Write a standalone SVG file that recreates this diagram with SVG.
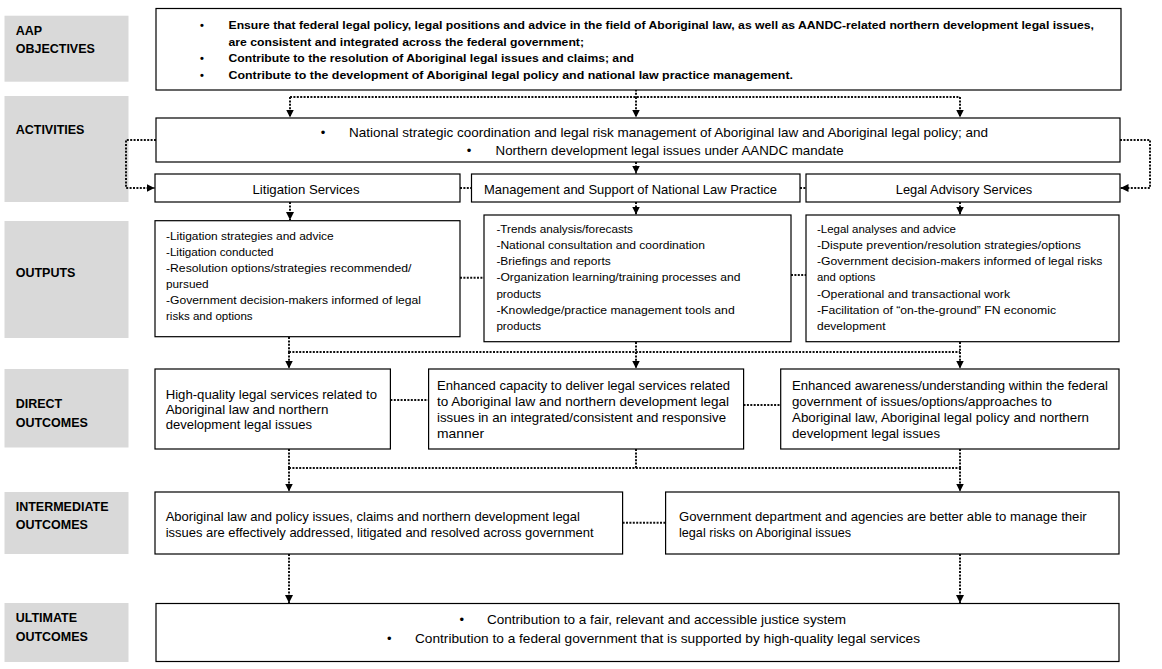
<svg xmlns="http://www.w3.org/2000/svg" width="1162" height="669" viewBox="0 0 1162 669">
<defs>
<style>
.lbl{fill:#d9d9d9;stroke:none}
.lt{font-family:"Liberation Sans",Arial,sans-serif;font-weight:bold;font-size:12.5px;fill:#000}
.box{fill:#fff;stroke:#000;stroke-width:1.2}
.b{font-family:"Liberation Sans",Arial,sans-serif;font-weight:bold;font-size:11px;fill:#000}
.m{font-family:"Liberation Sans",Arial,sans-serif;font-size:13px;fill:#000}
.s{font-family:"Liberation Sans",Arial,sans-serif;font-size:11.5px;fill:#000}
.c{text-anchor:middle}
.dot{fill:none;stroke:#111;stroke-width:2;stroke-dasharray:2 1.4}
.arr{marker-end:url(#ah)}
</style>
<marker id="ah" viewBox="0 0 8 8" refX="8" refY="4" markerWidth="8" markerHeight="8" markerUnits="userSpaceOnUse" orient="auto">
<path d="M0,0 L8,4 L0,8 z" fill="#000"/>
</marker>
</defs>
<rect width="1162" height="669" fill="#fff"/>

<g id="labels">
<g id="lbl-aap"><rect class="lbl" x="4.5" y="15.7" width="124" height="66"/><text class="lt" x="15.7" y="34.5">AAP</text><text class="lt" x="15.7" y="52.5">OBJECTIVES</text></g>
<g id="lbl-act"><rect class="lbl" x="4.5" y="96" width="124" height="106"/><text class="lt" x="15.7" y="133.5">ACTIVITIES</text></g>
<g id="lbl-out"><rect class="lbl" x="4.5" y="221" width="124" height="117"/><text class="lt" x="15.7" y="276.5">OUTPUTS</text></g>
<g id="lbl-direct"><rect class="lbl" x="4.5" y="369" width="124" height="78.5"/><text class="lt" x="15.7" y="408">DIRECT</text><text class="lt" x="15.7" y="427">OUTCOMES</text></g>
<g id="lbl-inter"><rect class="lbl" x="4.5" y="492" width="124" height="62"/><text class="lt" x="15.7" y="511">INTERMEDIATE</text><text class="lt" x="15.7" y="528.5">OUTCOMES</text></g>
<g id="lbl-ult"><rect class="lbl" x="4.5" y="603" width="124" height="59"/><text class="lt" x="15.7" y="622">ULTIMATE</text><text class="lt" x="15.7" y="640.5">OUTCOMES</text></g>
</g>

<g id="connectors">
<path class="dot" d="M636,86 V97"/>
<path class="dot" d="M290,97 H960"/>
<path class="dot arr" d="M290,97 V117.5"/>
<path class="dot arr" d="M636,97 V117.5"/>
<path class="dot arr" d="M960,97 V117.5"/>
<path class="dot arr" d="M156,140 H126 V188 H154.5"/>
<path class="dot arr" d="M1120,140 H1150 V188 H1120.5"/>
<path class="dot arr" d="M636,162 V173.5"/>
<path class="dot" d="M460,188 H471.5"/>
<path class="dot" d="M800,188 H806"/>
<path class="dot arr" d="M290,202 V220"/>
<path class="dot arr" d="M636,202 V214.5"/>
<path class="dot arr" d="M960,202 V214.5"/>
<path class="dot" d="M460,277.7 H484"/>
<path class="dot" d="M791,275 H806"/>
<path class="dot" d="M289,337 V352"/>
<path class="dot" d="M636,342 V352"/>
<path class="dot" d="M960,342 V352"/>
<path class="dot" d="M289,352 H960"/>
<path class="dot arr" d="M289,352 V368.5"/>
<path class="dot arr" d="M636,352 V368.5"/>
<path class="dot arr" d="M960,352 V368.5"/>
<path class="dot" d="M390.4,400 H428.6"/>
<path class="dot" d="M743.5,405 H780.7"/>
<path class="dot" d="M289,449 V468"/>
<path class="dot" d="M636,449 V468"/>
<path class="dot" d="M960,449 V468"/>
<path class="dot" d="M289,468 H960"/>
<path class="dot arr" d="M289,468 V491.5"/>
<path class="dot arr" d="M960,468 V491.5"/>
<path class="dot" d="M622.6,522.7 H665.6"/>
<path class="dot arr" d="M289,554 V603"/>
<path class="dot arr" d="M960,554 V603"/>
</g>

<g id="objectives">
<rect class="box" x="156" y="8.5" width="965" height="81.5"/>
<text class="b c" x="202" y="29">•</text>
<text class="b" x="228.5" y="29" textLength="865.5" lengthAdjust="spacingAndGlyphs">Ensure that federal legal policy, legal positions and advice in the field of Aboriginal law, as well as AANDC-related northern development legal issues,</text>
<text class="b" x="228.5" y="45.5" textLength="355.5" lengthAdjust="spacingAndGlyphs">are consistent and integrated across the federal government;</text>
<text class="b c" x="202" y="62">•</text>
<text class="b" x="228.5" y="62" textLength="405.5" lengthAdjust="spacingAndGlyphs">Contribute to the resolution of Aboriginal legal issues and claims; and</text>
<text class="b c" x="202" y="79">•</text>
<text class="b" x="228.5" y="79" textLength="564.5" lengthAdjust="spacingAndGlyphs">Contribute to the development of Aboriginal legal policy and national law practice management.</text>
</g>

<g id="activities">
<rect class="box" x="156" y="118" width="964" height="44"/>
<text class="m c" x="323" y="137">•</text>
<text class="m" x="349" y="137" textLength="639" lengthAdjust="spacingAndGlyphs">National strategic coordination and legal risk management of Aboriginal law and Aboriginal legal policy; and</text>
<text class="m c" x="469" y="155">•</text>
<text class="m" x="495.6" y="155" textLength="348" lengthAdjust="spacingAndGlyphs">Northern development legal issues under AANDC mandate</text>
</g>

<g id="litigation">
<rect class="box" x="155" y="174" width="305" height="28"/>
<text class="m c" x="306" y="193.5" textLength="107" lengthAdjust="spacingAndGlyphs">Litigation Services</text>
</g>
<g id="management">
<rect class="box" x="471.5" y="174" width="328.5" height="28"/>
<text class="m c" x="630.5" y="193.5" textLength="293" lengthAdjust="spacingAndGlyphs">Management and Support of National Law Practice</text>
</g>
<g id="legal-advisory">
<rect class="box" x="806" y="174" width="314" height="28"/>
<text class="m c" x="964" y="193.5" textLength="136.5" lengthAdjust="spacingAndGlyphs">Legal Advisory Services</text>
</g>

<g id="out-litigation">
<rect class="box" x="155" y="220.7" width="305" height="116"/>
<text class="s" x="166" y="240" textLength="167.7" lengthAdjust="spacingAndGlyphs">-Litigation strategies and advice</text>
<text class="s" x="166" y="256" textLength="107.6" lengthAdjust="spacingAndGlyphs">-Litigation conducted</text>
<text class="s" x="166" y="272" textLength="245.4" lengthAdjust="spacingAndGlyphs">-Resolution options/strategies recommended/</text>
<text class="s" x="166" y="287.5" textLength="42.6" lengthAdjust="spacingAndGlyphs">pursued</text>
<text class="s" x="166" y="304" textLength="255" lengthAdjust="spacingAndGlyphs">-Government decision-makers informed of legal</text>
<text class="s" x="166" y="320" textLength="86.6" lengthAdjust="spacingAndGlyphs">risks and options</text>
</g>

<g id="out-management">
<rect class="box" x="484" y="215" width="307" height="126.7"/>
<text class="s" x="496.4" y="233" textLength="136.6" lengthAdjust="spacingAndGlyphs">-Trends analysis/forecasts</text>
<text class="s" x="496.4" y="249" textLength="208.6" lengthAdjust="spacingAndGlyphs">-National consultation and coordination</text>
<text class="s" x="496.4" y="265.2" textLength="114.3" lengthAdjust="spacingAndGlyphs">-Briefings and reports</text>
<text class="s" x="496.4" y="281.4" textLength="244" lengthAdjust="spacingAndGlyphs">-Organization learning/training processes and</text>
<text class="s" x="496.4" y="297.6" textLength="44.6" lengthAdjust="spacingAndGlyphs">products</text>
<text class="s" x="496.4" y="313.8" textLength="238.3" lengthAdjust="spacingAndGlyphs">-Knowledge/practice management tools and</text>
<text class="s" x="496.4" y="330" textLength="44.6" lengthAdjust="spacingAndGlyphs">products</text>
</g>

<g id="out-advisory">
<rect class="box" x="806" y="215" width="313" height="126.7"/>
<text class="s" x="817" y="233" textLength="139" lengthAdjust="spacingAndGlyphs">-Legal analyses and advice</text>
<text class="s" x="817" y="249" textLength="264" lengthAdjust="spacingAndGlyphs">-Dispute prevention/resolution strategies/options</text>
<text class="s" x="817" y="265.2" textLength="285.4" lengthAdjust="spacingAndGlyphs">-Government decision-makers informed of legal risks</text>
<text class="s" x="817" y="281.4" textLength="58.5" lengthAdjust="spacingAndGlyphs">and options</text>
<text class="s" x="817" y="297.6" textLength="193" lengthAdjust="spacingAndGlyphs">-Operational and transactional work</text>
<text class="s" x="817" y="313.8" textLength="239" lengthAdjust="spacingAndGlyphs">-Facilitation of “on-the-ground” FN economic</text>
<text class="s" x="817" y="330" textLength="68.5" lengthAdjust="spacingAndGlyphs">development</text>
</g>

<g id="direct-1">
<rect class="box" x="155" y="369" width="235.4" height="80"/>
<text class="m" x="165.7" y="398.5" textLength="211.3" lengthAdjust="spacingAndGlyphs">High-quality legal services related to</text>
<text class="m" x="165.7" y="413.5" textLength="162.7" lengthAdjust="spacingAndGlyphs">Aboriginal law and northern</text>
<text class="m" x="165.7" y="428.5" textLength="146.3" lengthAdjust="spacingAndGlyphs">development legal issues</text>
</g>

<g id="direct-2">
<rect class="box" x="428.6" y="369" width="315" height="80"/>
<text class="m" x="437" y="389.5" textLength="293" lengthAdjust="spacingAndGlyphs">Enhanced capacity to deliver legal services related</text>
<text class="m" x="437" y="405.5" textLength="292" lengthAdjust="spacingAndGlyphs">to Aboriginal law and northern development legal</text>
<text class="m" x="437" y="421.5" textLength="289" lengthAdjust="spacingAndGlyphs">issues in an integrated/consistent and responsive</text>
<text class="m" x="437" y="437.5" textLength="47" lengthAdjust="spacingAndGlyphs">manner</text>
</g>

<g id="direct-3">
<rect class="box" x="780.7" y="369" width="338.3" height="80"/>
<text class="m" x="792" y="389.5" textLength="316" lengthAdjust="spacingAndGlyphs">Enhanced awareness/understanding within the federal</text>
<text class="m" x="792" y="405.5" textLength="260" lengthAdjust="spacingAndGlyphs">government of issues/options/approaches to</text>
<text class="m" x="792" y="421.5" textLength="297" lengthAdjust="spacingAndGlyphs">Aboriginal law, Aboriginal legal policy and northern</text>
<text class="m" x="792" y="437.5" textLength="148" lengthAdjust="spacingAndGlyphs">development legal issues</text>
</g>

<g id="inter-1">
<rect class="box" x="155" y="492" width="467.6" height="62"/>
<text class="m" x="165.7" y="521" textLength="414.3" lengthAdjust="spacingAndGlyphs">Aboriginal law and policy issues, claims and northern development legal</text>
<text class="m" x="165.7" y="537" textLength="427.8" lengthAdjust="spacingAndGlyphs">issues are effectively addressed, litigated and resolved across government</text>
</g>

<g id="inter-2">
<rect class="box" x="665.6" y="492" width="453.4" height="62"/>
<text class="m" x="679" y="521" textLength="407.7" lengthAdjust="spacingAndGlyphs">Government department and agencies are better able to manage their</text>
<text class="m" x="679" y="537" textLength="172" lengthAdjust="spacingAndGlyphs">legal risks on Aboriginal issues</text>
</g>

<g id="ultimate">
<rect class="box" x="156" y="603.5" width="963" height="58"/>
<text class="m c" x="461.7" y="623.5">•</text>
<text class="m" x="487" y="623.5" textLength="359" lengthAdjust="spacingAndGlyphs">Contribution to a fair, relevant and accessible justice system</text>
<text class="m c" x="389.3" y="643">•</text>
<text class="m" x="415" y="643" textLength="505" lengthAdjust="spacingAndGlyphs">Contribution to a federal government that is supported by high-quality legal services</text>
</g>
</svg>
